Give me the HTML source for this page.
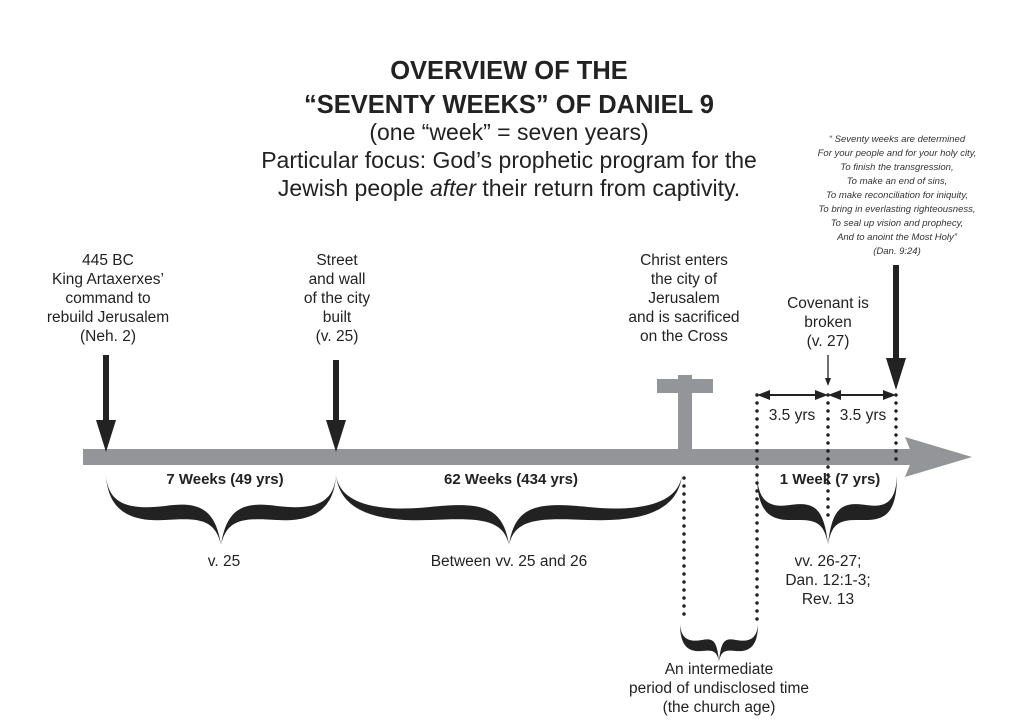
<!DOCTYPE html>
<html><head><meta charset="utf-8"><style>
body{margin:0;background:#fff;}
svg{display:block;font-family:"Liberation Sans",sans-serif;}
</style></head><body>
<svg width="1024" height="722" viewBox="0 0 1024 722">
<rect width="1024" height="722" fill="#fff"/>
<g text-anchor="middle" fill="#222">
<text x="509" y="79" font-size="25.5" font-weight="bold">OVERVIEW OF THE</text>
<text x="509" y="113" font-size="25.5" font-weight="bold">“SEVENTY WEEKS” OF DANIEL 9</text>
<text x="509" y="140" font-size="23">(one “week” = seven years)</text>
<text x="509" y="168" font-size="23">Particular focus: God’s prophetic program for the</text>
<text x="509" y="196" font-size="23">Jewish people <tspan font-style="italic">after</tspan> their return from captivity.</text>
<g font-size="9.5" font-style="italic" fill="#333">
<text x="897" y="142">“ Seventy weeks are determined</text>
<text x="897" y="156">For your people and for your holy city,</text>
<text x="897" y="170">To finish the transgression,</text>
<text x="897" y="184">To make an end of sins,</text>
<text x="897" y="198">To make reconciliation for iniquity,</text>
<text x="897" y="212">To bring in everlasting righteousness,</text>
<text x="897" y="226">To seal up vision and prophecy,</text>
<text x="897" y="240">And to anoint the Most Holy”</text>
<text x="897" y="254">(Dan. 9:24)</text>
</g>
<g font-size="15.5">
<text x="108" y="265">445 BC</text>
<text x="108" y="284">King Artaxerxes’</text>
<text x="108" y="303">command to</text>
<text x="108" y="322">rebuild Jerusalem</text>
<text x="108" y="341">(Neh. 2)</text>
<text x="337" y="265">Street</text>
<text x="337" y="284">and wall</text>
<text x="337" y="303">of the city</text>
<text x="337" y="322">built</text>
<text x="337" y="341">(v. 25)</text>
<text x="684" y="265">Christ enters</text>
<text x="684" y="284">the city of</text>
<text x="684" y="303">Jerusalem</text>
<text x="684" y="322">and is sacrificed</text>
<text x="684" y="341">on the Cross</text>
<text x="828" y="308">Covenant is</text>
<text x="828" y="327">broken</text>
<text x="828" y="346">(v. 27)</text>
<text x="792" y="420">3.5 yrs</text>
<text x="863" y="420">3.5 yrs</text>
<text x="224" y="566">v. 25</text>
<text x="509" y="566">Between vv. 25 and 26</text>
<text x="828" y="566">vv. 26-27;</text>
<text x="828" y="585">Dan. 12:1-3;</text>
<text x="828" y="604">Rev. 13</text>
<text x="719" y="674">An intermediate</text>
<text x="719" y="693">period of undisclosed time</text>
<text x="719" y="712">(the church age)</text>
</g>
<g font-size="15" font-weight="bold">
<text x="225" y="484">7 Weeks (49 yrs)</text>
<text x="511" y="484">62 Weeks (434 yrs)</text>
<text x="830" y="484">1 Week (7 yrs)</text>
</g>
</g>
<!-- cross -->
<rect x="678" y="375" width="14" height="76" fill="#939598"/>
<rect x="657" y="379" width="56" height="14" fill="#939598"/>
<!-- timeline -->
<rect x="83" y="449" width="830" height="16" fill="#939598"/>
<polygon points="905,437 972,457 905,477 913,457" fill="#939598"/>
<!-- dotted -->
<g stroke="#222" stroke-width="3.5" stroke-linecap="round" stroke-dasharray="0 8" fill="none">
<line x1="757" y1="395" x2="757" y2="622"/>
<line x1="828" y1="395" x2="828" y2="518"/>
<line x1="896" y1="395" x2="896" y2="464"/>
<line x1="684" y1="478" x2="684" y2="622"/>
</g>
<!-- arrows -->
<g fill="#222" stroke="#222">
<rect x="103" y="355" width="6" height="75" stroke="none"/>
<polygon points="96,420 116,420 106,452" stroke="none"/>
<rect x="333" y="360" width="6" height="70" stroke="none"/>
<polygon points="326,420 346,420 336,452" stroke="none"/>
<rect x="893" y="265" width="6" height="100" stroke="none"/>
<polygon points="886,358 906,358 896,390" stroke="none"/>
<line x1="828" y1="355" x2="828" y2="380" stroke-width="1.3"/>
<polygon points="825,378 831,378 828,386" stroke="none"/>
<line x1="765" y1="395" x2="820" y2="395" stroke-width="2"/>
<polygon points="757,395 770,390 770,400" stroke="none"/>
<polygon points="828,395 815,390 815,400" stroke="none"/>
<line x1="836" y1="395" x2="888" y2="395" stroke-width="2"/>
<polygon points="828,395 841,390 841,400" stroke="none"/>
<polygon points="896,395 883,390 883,400" stroke="none"/>
</g>
<!-- braces -->
<g fill="#222">
<path d="M106,475 C108,505 130,510 165,506 C195,502 215,505 221,545 C227,505 247,502 277,506 C312,510 334,505 336,475 C334,512 310,522 277,520 C245,518 227,518 221,545 C215,518 197,518 165,520 C132,522 108,512 106,475 Z"/>
<path d="M336,475 C340,505 380,512 430,507 C480,502 503,505 509,545 C515,505 538,502 588,507 C638,512 678,505 682,475 C678,512 640,522 588,520 C540,518 515,518 509,545 C503,518 478,518 430,520 C378,522 340,512 336,475 Z"/>
<path d="M757,475 C758,502 770,508 790,505 C812,502 824,505 828,545 C832,505 844,502 866,505 C886,508 896,502 897,475 C897,512 886,520 866,520 C845,520 832,518 828,545 C824,518 811,520 790,520 C770,520 757,512 757,475 Z"/>
<path d="M680,624 C681,640 690,642 702,640 C713,638 717,640 719,662 C721,640 725,638 736,640 C748,642 757,640 758,624 C758,648 748,652 736,651 C726,650 721,650 719,662 C717,650 712,650 702,651 C690,652 680,648 680,624 Z"/>
</g>
</svg>
</body></html>
